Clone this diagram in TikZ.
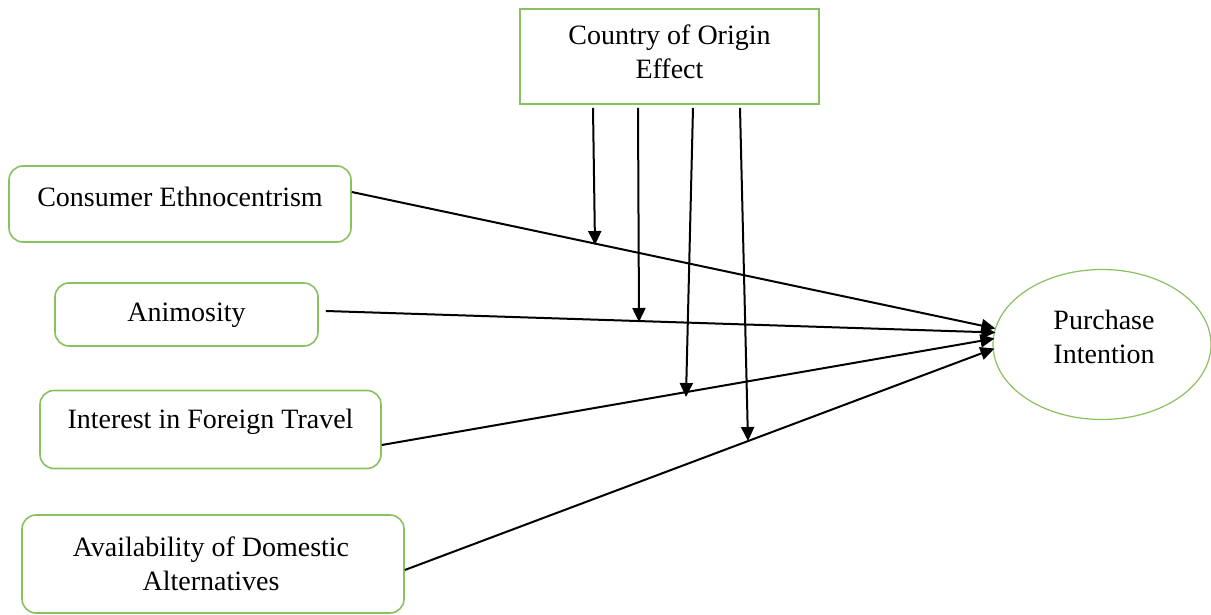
\documentclass[tikz,border=0pt]{standalone}
\usepackage{fontspec}
\setmainfont{Liberation Serif}
\usetikzlibrary{arrows.meta,calc,shapes.geometric}
\definecolor{boxgreen}{RGB}{137,192,96}
\begin{document}
\begin{tikzpicture}[x=1pt,y=-1pt,
  box/.style={draw=boxgreen,line width=1.6pt,rounded corners=14pt,inner sep=0pt},
  sqbox/.style={draw=boxgreen,line width=1.6pt,inner sep=0pt},
  lbl/.style={font=\fontsize{28}{34}\selectfont,align=center,inner sep=0pt},
  conn/.style={line width=2pt,-{Triangle[length=14pt,width=13pt]}}]
\useasboundingbox (0,0) rectangle (1211,615);
% boxes
\node[sqbox,minimum width=299pt,minimum height=95pt] (coo) at (669.5,56.5) {};
\node[lbl] (coot) at (669.5,52) {Country of Origin\\Effect};
\node[box,minimum width=342pt,minimum height=76pt] (ce) at (180,204) {};
\node[lbl] (cet) at (180,197) {Consumer Ethnocentrism};
\node[box,minimum width=263pt,minimum height=63pt] (an) at (186.5,314.5) {};
\node[lbl] (ant) at (186.5,315) {Animosity};
\node[box,minimum width=341pt,minimum height=78pt] (ift) at (210.5,429.5) {};
\node[lbl] (iftt) at (210.5,422) {Interest in Foreign Travel};
\node[box,minimum width=382pt,minimum height=98pt] (ada) at (213,564) {};
\node[lbl] (adat) at (211,564) {Availability of Domestic\\Alternatives};
\node[ellipse,draw=boxgreen,line width=1.2pt,minimum width=218pt,minimum height=150pt,inner sep=0pt] (pi) at (1102,344.5) {};
\node[lbl] (pit) at (1104,337) {Purchase\\Intention};
% main connectors
\draw[conn] ($(ce.east)+(0,-12)$) -- ($(pi.west)+(3,-16)$);
\draw[conn] ($(an.east)+(7,-3.5)$) -- ($(pi.west)+(3,-12)$);
\draw[conn] ($(ift.east)+(0,15.5)$) -- ($(pi.west)+(2,-6)$);
\draw[conn] ($(ada.east)+(0,6)$) -- ($(pi.west)+(2,4)$);
% moderating connectors
\coordinate (m1) at (595,245);
\coordinate (m2) at (639,322);
\coordinate (m3) at (686,397);
\coordinate (m4) at (748,441);
\draw[conn] ($(coo.south)+(-76.5,3)$) -- (m1);
\draw[conn] ($(coo.south)+(-31.5,3)$) -- (m2);
\draw[conn] ($(coo.south)+(23.5,3)$) -- (m3);
\draw[conn] ($(coo.south)+(70.5,3)$) -- (m4);
\end{tikzpicture}
\end{document}
